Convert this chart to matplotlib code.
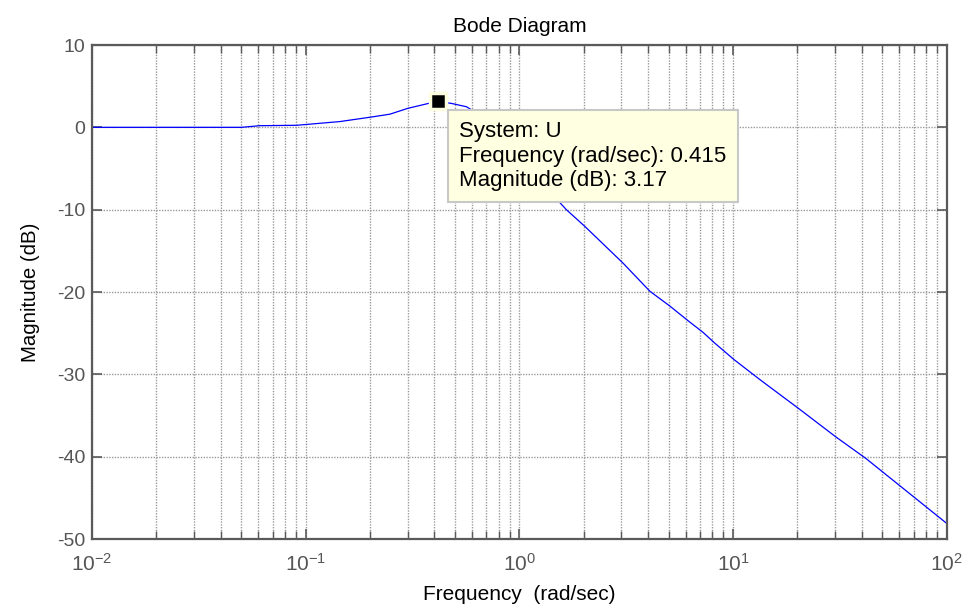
import numpy as np
import matplotlib
matplotlib.use("Agg")
import matplotlib.pyplot as plt
from matplotlib.ticker import LogLocator, FixedLocator

plt.rcParams['font.family'] = ['Liberation Sans', 'DejaVu Sans']
plt.rcParams['mathtext.fontset'] = 'custom'
plt.rcParams['mathtext.rm'] = 'Liberation Sans'
plt.rcParams['axes.unicode_minus'] = False

# magnitude response of system U
freq = [0.01, 0.02, 0.05, 0.061, 0.0908, 0.1445, 0.204, 0.248, 0.30, 0.368,
        0.415, 0.482, 0.566, 0.7, 1.0, 1.3, 1.66, 2.02, 3.06, 4.08, 5.06,
        6.17, 7.24, 8.21, 10.1, 13.3, 20.4, 30.3, 41.8, 100]
mag = [0, 0, 0, 0.2, 0.25, 0.7, 1.26, 1.6, 2.3, 2.85,
       3.17, 2.9, 2.5, 1.0, -3.5, -7.0, -10, -12, -16.5, -19.9, -21.7,
       -23.5, -24.9, -26.2, -28.2, -30.6, -34.2, -37.6, -40.2, -48.1]

# data tip
tip_freq = 0.415
tip_mag = 3.17

yticks = [-50, -40, -30, -20, -10, 0, 10]

axis_col = '#5a5a5a'
grid_col = '#9a9a9a'

fig = plt.figure(figsize=(9.68, 6.14), dpi=100)
ax = fig.add_axes([0.095, 0.1221, 0.883, 0.8046])

ax.semilogx(freq, mag, color='#0000ff', lw=0.9)
ax.set_xlim(1e-2, 1e2)
ax.set_ylim(-50, 10)

ax.xaxis.set_major_locator(LogLocator(base=10, numticks=10))
ax.xaxis.set_minor_locator(LogLocator(base=10, subs=np.arange(2, 10), numticks=10))
ax.yaxis.set_major_locator(FixedLocator(yticks))

ax.grid(True, which='major', color=grid_col, lw=1.0, linestyle=(0, (1, 1)))
ax.grid(True, which='minor', axis='x', color=grid_col, lw=1.0, linestyle=(0, (1, 1)))

for s in ax.spines.values():
    s.set_color(axis_col)
    s.set_linewidth(1.6)

ax.tick_params(which='both', direction='in', top=True, right=True,
               color=axis_col, labelcolor='#555555')
ax.tick_params(which='major', length=7, width=1.2)
ax.tick_params(which='minor', length=6, width=1.0)
ax.tick_params(axis='x', labelsize=15, pad=10)
ax.tick_params(axis='y', labelsize=14, pad=5)

ax.set_title('Bode Diagram', fontsize=15, pad=9.5)
ax.set_xlabel('Frequency  (rad/sec)', fontsize=15, labelpad=7)
ax.set_ylabel('Magnitude (dB)', fontsize=14.7, labelpad=12)

# data tip marker and box
ax.plot([tip_freq], [tip_mag], marker='s', ms=11.5, color='black',
        mec='#fdfde0', mew=2.5, zorder=5)
ax.annotate(f'System: U\nFrequency (rad/sec): {tip_freq}\nMagnitude (dB): {tip_mag}',
            xy=(tip_freq, tip_mag), xytext=(21.5, -20), textcoords='offset pixels',
            ha='left', va='top', fontsize=16, linespacing=1.22,
            bbox=dict(boxstyle='square,pad=0.5', fc='#ffffe1', ec='#c8c8c8', lw=1.5),
            zorder=6)

fig.savefig('out.png', dpi=100)
